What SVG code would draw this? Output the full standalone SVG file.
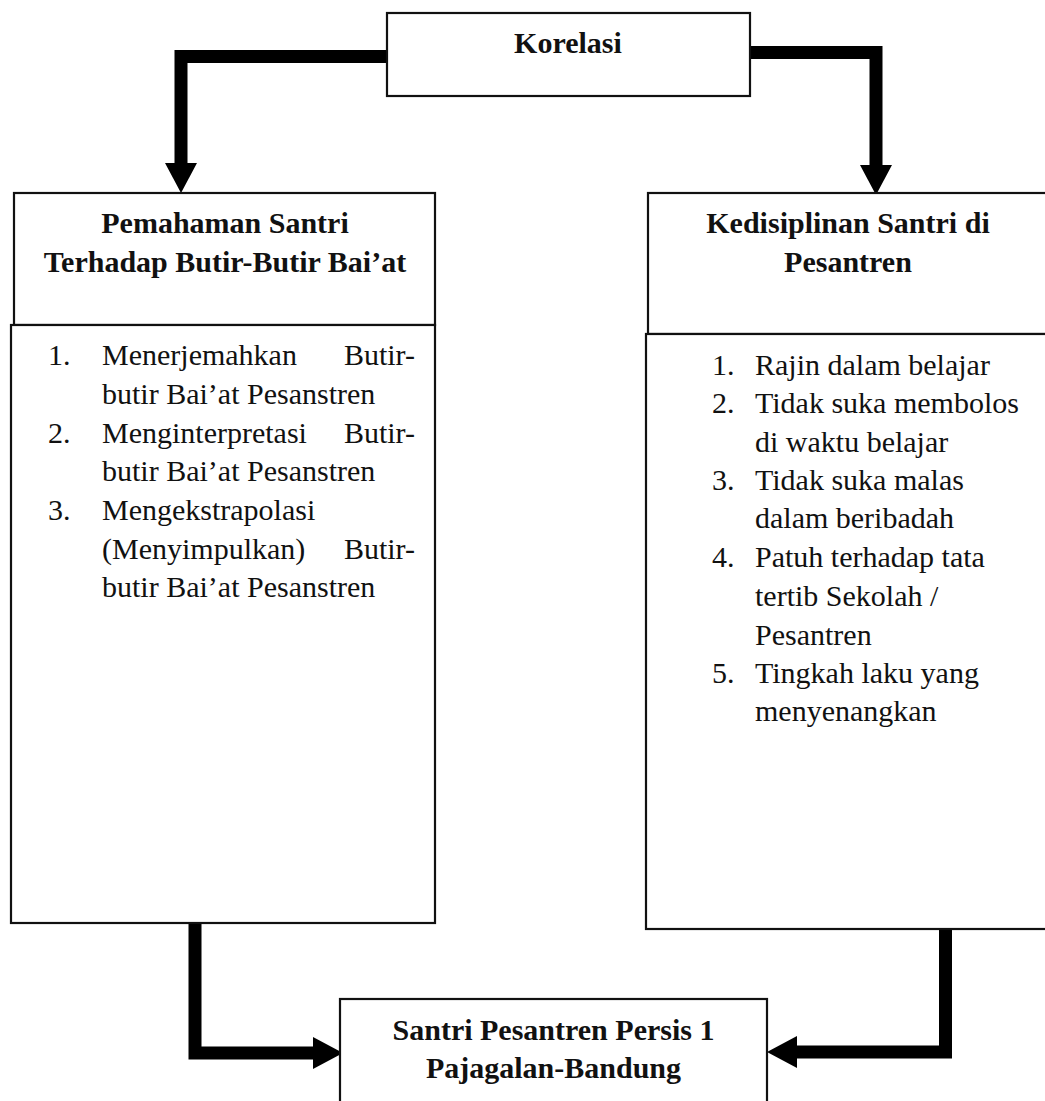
<svg xmlns="http://www.w3.org/2000/svg" width="1045" height="1101" viewBox="0 0 1045 1101">
<style>
.box{fill:#fff;stroke:#111;stroke-width:2.2}
.t{font-family:"Liberation Serif","Times New Roman",serif;font-size:30px;fill:#111}
.b{font-weight:bold;text-anchor:middle}
.e{text-anchor:end}
.bar{fill:none;stroke:#000;stroke-width:13;stroke-linejoin:miter}
</style>
<defs>
<marker id="ah" markerUnits="userSpaceOnUse" markerWidth="31" markerHeight="33" refX="0" refY="16" orient="auto" viewBox="0 0 31 32">
<path d="M0,0 L30,16 L0,32 z" fill="#000"/>
</marker>
</defs>
<rect width="1045" height="1101" fill="#fff"/>
<g id="connectors">
<polyline class="bar" points="387,56.5 181,56.5 181,163" marker-end="url(#ah)"/>
<polyline class="bar" points="750,52.5 876,52.5 876,165" marker-end="url(#ah)"/>
<polyline class="bar" points="195,921 195,1053 313,1053" marker-end="url(#ah)"/>
<polyline class="bar" points="945.5,928 945.5,1052 797,1052" marker-end="url(#ah)"/>
</g>
<g id="korelasi">
<rect class="box" x="387" y="13" width="363" height="83"/>
<text class="t b" x="568" y="53">Korelasi</text>
</g>
<g id="pemahaman">
<rect class="box" x="14" y="193" width="421" height="132"/>
<text class="t b" x="225" y="233">Pemahaman Santri</text>
<text class="t b" x="225" y="272">Terhadap Butir-Butir Bai’at</text>
</g>
<g id="pemahaman-list">
<rect class="box" x="11" y="325" width="424" height="598"/>
<text class="t" x="48" y="365">1.</text>
<text class="t" x="102" y="365">Menerjemahkan</text>
<text class="t e" x="415" y="365">Butir-</text>
<text class="t" x="102" y="404">butir Bai’at Pesanstren</text>
<text class="t" x="48" y="443">2.</text>
<text class="t" x="102" y="443">Menginterpretasi</text>
<text class="t e" x="415" y="443">Butir-</text>
<text class="t" x="102" y="481">butir Bai’at Pesanstren</text>
<text class="t" x="48" y="520">3.</text>
<text class="t" x="102" y="520">Mengekstrapolasi</text>
<text class="t" x="102" y="559">(Menyimpulkan)</text>
<text class="t e" x="415" y="559">Butir-</text>
<text class="t" x="102" y="597">butir Bai’at Pesanstren</text>
</g>
<g id="kedisiplinan">
<rect class="box" x="648" y="193" width="410" height="141"/>
<text class="t b" x="848" y="233">Kedisiplinan Santri di</text>
<text class="t b" x="848" y="272">Pesantren</text>
</g>
<g id="kedisiplinan-list">
<rect class="box" x="646" y="334" width="412" height="595"/>
<text class="t" x="712" y="375">1.</text>
<text class="t" x="755" y="375">Rajin dalam belajar</text>
<text class="t" x="712" y="413">2.</text>
<text class="t" x="755" y="413">Tidak suka membolos</text>
<text class="t" x="755" y="452">di waktu belajar</text>
<text class="t" x="712" y="490">3.</text>
<text class="t" x="755" y="490">Tidak suka malas</text>
<text class="t" x="755" y="528">dalam beribadah</text>
<text class="t" x="712" y="567">4.</text>
<text class="t" x="755" y="567">Patuh terhadap tata</text>
<text class="t" x="755" y="606">tertib Sekolah /</text>
<text class="t" x="755" y="645">Pesantren</text>
<text class="t" x="712" y="683">5.</text>
<text class="t" x="755" y="683">Tingkah laku yang</text>
<text class="t" x="755" y="721">menyenangkan</text>
</g>
<g id="santri">
<rect class="box" x="340" y="999" width="427" height="130"/>
<text class="t b" x="553.5" y="1040">Santri Pesantren Persis 1</text>
<text class="t b" x="553.5" y="1078">Pajagalan-Bandung</text>
</g>
</svg>
